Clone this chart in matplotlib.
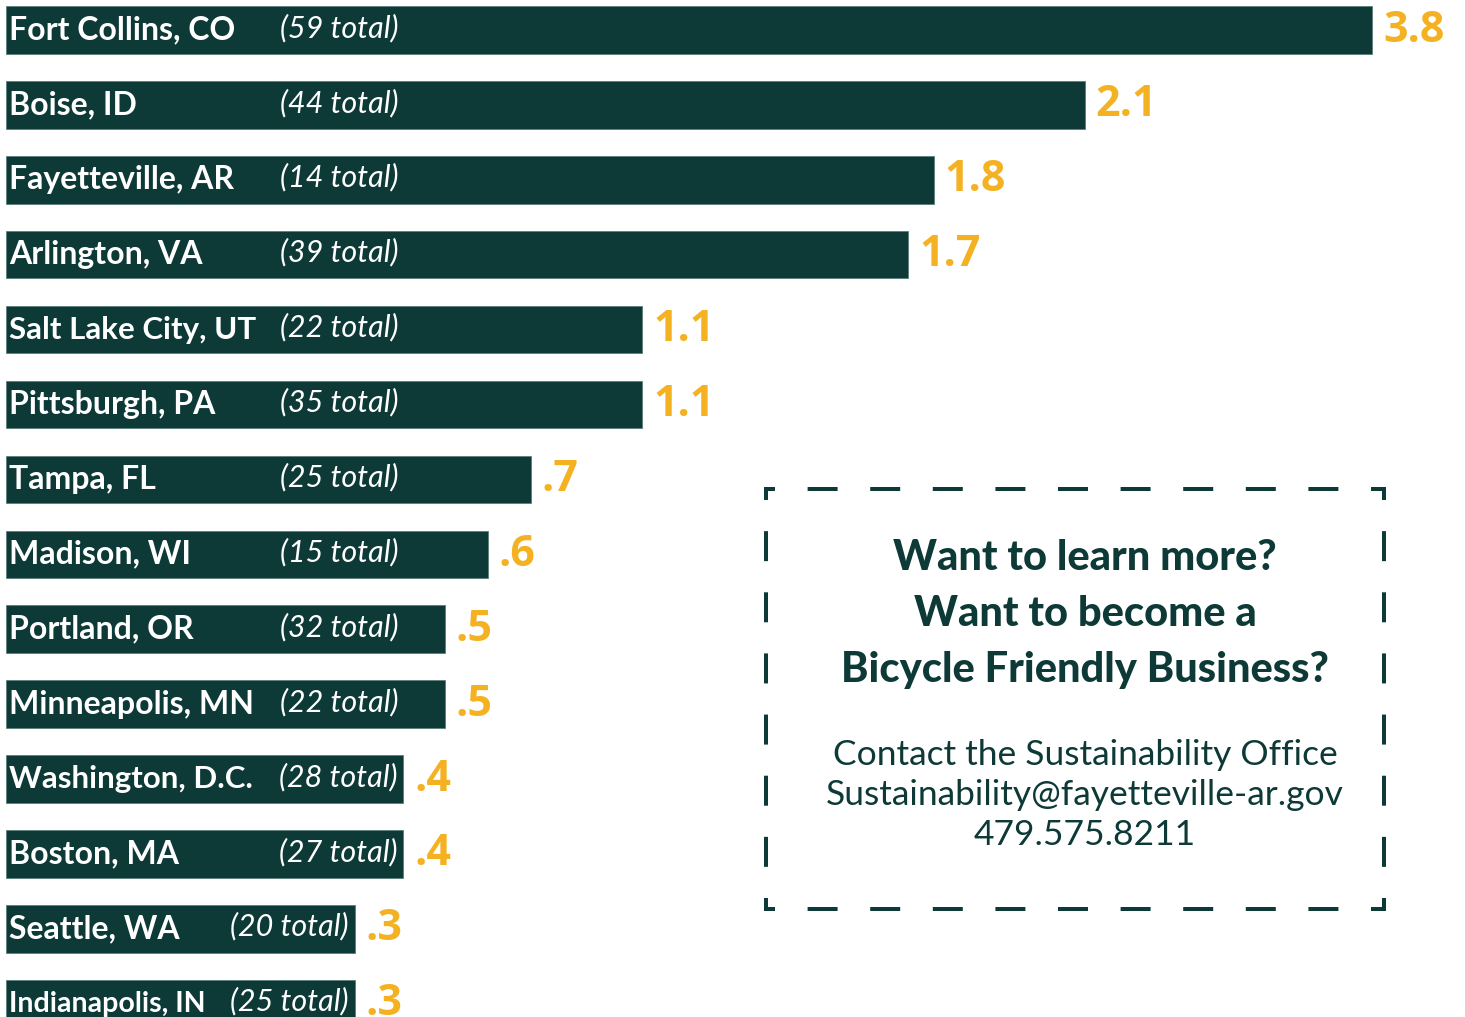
import matplotlib
matplotlib.use("Agg")
import matplotlib.pyplot as plt
from matplotlib.lines import Line2D

plt.rcParams['lines.scale_dashes'] = False

# ---- data ----
cities = ["Fort Collins, CO", "Boise, ID", "Fayetteville, AR", "Arlington, VA",
          "Salt Lake City, UT", "Pittsburgh, PA", "Tampa, FL", "Madison, WI",
          "Portland, OR", "Minneapolis, MN", "Washington, D.C.", "Boston, MA",
          "Seattle, WA", "Indianapolis, IN"]
totals = [59, 44, 14, 39, 22, 35, 25, 15, 32, 22, 28, 27, 20, 25]
value_labels = ["3.8", "2.1", "1.8", "1.7", "1.1", "1.1", ".7", ".6",
                ".5", ".5", ".4", ".4", ".3", ".3"]
# drawn bar lengths (graphic is not to scale, Fort Collins = 3.8)
bar_lengths = [3.80, 3.00, 2.58, 2.51, 1.77, 1.77, 1.46, 1.34,
               1.22, 1.22, 1.105, 1.105, 0.97, 0.97]

headline = ["Want to learn more?", "Want to become a", "Bicycle Friendly Business?"]
contact = ["Contact the Sustainability Office",
           "Sustainability@fayetteville-ar.gov",
           "479.575.8211"]

GREEN = "#0d3a37"
ORANGE = "#f4b223"

W, H = 1465, 1017
fig = plt.figure(figsize=(W / 100, H / 100), dpi=100)
fig.patch.set_facecolor("white")

ax = fig.add_axes([0, 0, 1, 1])
PX = 359.5  # px per unit
X0 = 6      # px of zero
ax.set_xlim(-X0 / PX, (W - X0) / PX)
ROW = 74.9
Y0 = 30
ax.set_ylim((H - Y0) / ROW, -Y0 / ROW)
ax.axis("off")

n = len(cities)
ypos = list(range(n))
ax.barh(ypos, bar_lengths, height=0.635, color=GREEN, edgecolor="#5b7f7b",
        linewidth=0.6)

name_font = dict(family=["Lato", "DejaVu Sans"], weight="bold", color="white")
total_font = dict(family=["Lato", "DejaVu Sans"], style="italic", size=22, color="white")
val_font = dict(family=["Open Sans", "DejaVu Sans"], weight="bold", size=31, color=ORANGE)

renderer = fig.canvas.get_renderer()
for i in range(n):
    L = bar_lengths[i]
    tx = min(398, X0 + L * PX - 6)
    tt = ax.text((tx - X0) / PX, i - 0.03, f"({totals[i]} total)", ha="right",
                 va="center", **total_font)
    tot_left = tt.get_window_extent(renderer).x0
    size = 23
    nm = ax.annotate(cities[i], (0, i), xytext=(3, 0), textcoords="offset pixels",
                     ha="left", va="center", size=size, **name_font)
    while nm.get_window_extent(renderer).x1 > tot_left - 22 and size > 12:
        size -= 0.5
        nm.set_fontsize(size)
    ax.annotate(value_labels[i], (L, i), xytext=(11, 0), textcoords="offset pixels",
                ha="left", va="center", **val_font)

# ---- info box ----
ov = fig.add_axes([0, 0, 1, 1])
ov.set_xlim(0, W)
ov.set_ylim(H, 0)
ov.axis("off")
ov.patch.set_alpha(0)

x1, x2, y1, y2 = 766, 1384, 489, 909
lw_px = 4
pt = 0.72
on, off0, corner = 30, 31, 11
for (xa, ya, xb, yb) in [(x1, y1, x2, y1), (x1, y2, x2, y2), (x1, y1, x1, y2), (x2, y1, x2, y2)]:
    length = abs(xb - xa) + abs(yb - ya)
    k = round((length - 2 * corner - off0) / (on + off0))
    off = (length - 2 * corner - k * on) / (k + 1)
    offset = on - corner
    ext = lw_px / 2 if ya == yb else 0
    line = Line2D([xa - ext, xb + ext], [ya, yb], color=GREEN, linewidth=lw_px * pt,
                  solid_capstyle="butt", dash_capstyle="butt")
    line.set_linestyle((offset * pt, (on * pt, off * pt)))
    ov.add_line(line)

head_font = dict(family=["Lato", "DejaVu Sans"], weight="black", size=30, color=GREEN)
for j, t in enumerate(headline):
    ov.text(1085, 558 + j * 56, t, ha="center", va="center", **head_font)
cont_font = dict(family=["Lato", "DejaVu Sans"], weight="normal", size=25.5, color=GREEN)
for j, t in enumerate(contact):
    ov.text(1085, 755 + j * 40, t, ha="center", va="center", **cont_font)

fig.savefig("out.png", dpi=100, facecolor="white")
